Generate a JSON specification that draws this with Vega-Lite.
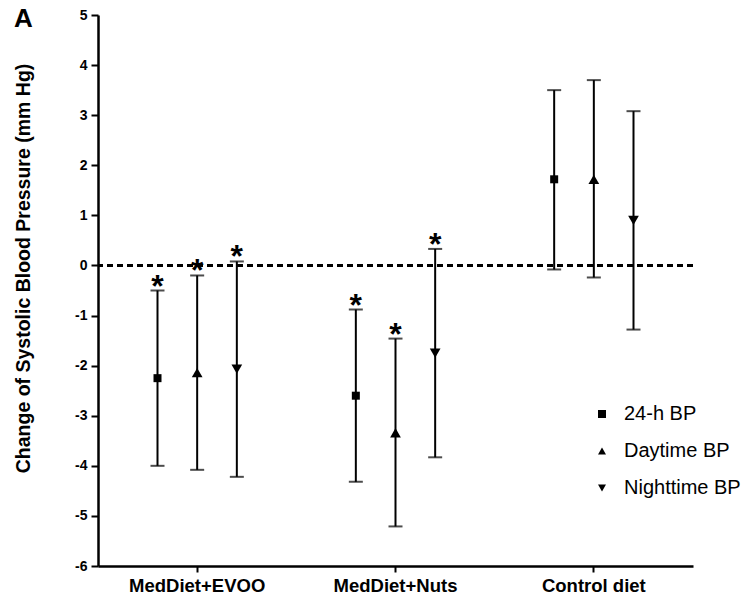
{
  "$schema": "https://vega.github.io/schema/vega-lite/v6.json",
  "width": 595,
  "height": 551,
  "autosize": "none",
  "padding": {"left": 98, "top": 15, "right": 59, "bottom": 37},
  "background": "white",
  "title": {"text": "A", "anchor": "start", "frame": "group", "font": "Liberation Sans", "fontSize": 26, "fontWeight": "bold", "color": "black", "dx": -84, "dy": 28},
  "config": {
    "view": {"stroke": null},
    "font": "Liberation Sans",
    "axis": {"grid": false, "domainColor": "black", "tickColor": "black", "labelColor": "black", "titleColor": "black", "labelFont": "Liberation Sans", "titleFont": "Liberation Sans"},
    "axisX": {"domainWidth": 2.5, "tickWidth": 2, "tickSize": 6, "labelFontSize": 18.5, "labelFontWeight": "bold", "labelAngle": 0, "labelPadding": 4, "title": null},
    "axisY": {"domainWidth": 2.5, "tickWidth": 2, "tickSize": 7, "labelFontSize": 14, "labelFontWeight": "bold", "labelPadding": 4}
  },
  "datasets": {
    "bp": [
      {"diet": "MedDiet+EVOO", "measure": "24-h BP", "mean": -2.25, "lo": -4.0, "hi": -0.5, "sig": "*"},
      {"diet": "MedDiet+EVOO", "measure": "Daytime BP", "mean": -2.14, "lo": -4.08, "hi": -0.2, "sig": "*"},
      {"diet": "MedDiet+EVOO", "measure": "Nighttime BP", "mean": -2.07, "lo": -4.22, "hi": 0.08, "sig": "*"},
      {"diet": "MedDiet+Nuts", "measure": "24-h BP", "mean": -2.6, "lo": -4.32, "hi": -0.88, "sig": "*"},
      {"diet": "MedDiet+Nuts", "measure": "Daytime BP", "mean": -3.34, "lo": -5.21, "hi": -1.46, "sig": "*"},
      {"diet": "MedDiet+Nuts", "measure": "Nighttime BP", "mean": -1.75, "lo": -3.83, "hi": 0.33, "sig": "*"},
      {"diet": "Control diet", "measure": "24-h BP", "mean": 1.72, "lo": -0.08, "hi": 3.5, "sig": ""},
      {"diet": "Control diet", "measure": "Daytime BP", "mean": 1.72, "lo": -0.24, "hi": 3.7, "sig": ""},
      {"diet": "Control diet", "measure": "Nighttime BP", "mean": 0.9, "lo": -1.28, "hi": 3.08, "sig": ""}
    ],
    "zero": [{"z": 0}]
  },
  "data": {"name": "bp"},
  "layer": [
    {
      "data": {"name": "zero"},
      "mark": {"type": "rule", "color": "black", "strokeWidth": 3, "strokeDash": [6, 4]},
      "encoding": {"y": {"field": "z", "type": "quantitative", "scale": {"domain": [-6, 5], "nice": false, "zero": false},
        "axis": {"values": [-6, -5, -4, -3, -2, -1, 0, 1, 2, 3, 4, 5], "labelExpr": "toString(datum.value)", "title": "Change of Systolic Blood Pressure (mm Hg)", "titleFontSize": 19.5, "titleFontWeight": "bold", "titleX": -75, "titleY": 253, "titleAlign": "center", "titleBaseline": "middle", "titleAngle": -90}}}
    },
    {
      "mark": {"type": "rule", "color": "black", "strokeWidth": 2},
      "encoding": {
        "x": {"field": "diet", "type": "nominal", "scale": {"domain": ["MedDiet+EVOO", "MedDiet+Nuts", "Control diet"], "paddingInner": 0, "paddingOuter": 0}},
        "xOffset": {"field": "measure", "type": "nominal", "scale": {"domain": ["24-h BP", "Daytime BP", "Nighttime BP"], "paddingInner": 0, "paddingOuter": 1.5}},
        "y": {"field": "lo", "type": "quantitative"},
        "y2": {"field": "hi"}
      }
    },
    {
      "mark": {"type": "tick", "color": "black", "size": 14, "thickness": 2, "orient": "horizontal"},
      "encoding": {
        "x": {"field": "diet", "type": "nominal", "scale": {"domain": ["MedDiet+EVOO", "MedDiet+Nuts", "Control diet"]}},
        "xOffset": {"field": "measure", "type": "nominal", "scale": {"domain": ["24-h BP", "Daytime BP", "Nighttime BP"]}},
        "y": {"field": "lo", "type": "quantitative"}
      }
    },
    {
      "mark": {"type": "tick", "color": "black", "size": 14, "thickness": 2, "orient": "horizontal"},
      "encoding": {
        "x": {"field": "diet", "type": "nominal", "scale": {"domain": ["MedDiet+EVOO", "MedDiet+Nuts", "Control diet"]}},
        "xOffset": {"field": "measure", "type": "nominal", "scale": {"domain": ["24-h BP", "Daytime BP", "Nighttime BP"]}},
        "y": {"field": "hi", "type": "quantitative"}
      }
    },
    {
      "transform": [{"filter": "datum.measure == '24-h BP'"}],
      "mark": {"type": "point", "filled": true, "color": "black", "opacity": 1, "size": 64},
      "encoding": {
        "x": {"field": "diet", "type": "nominal", "scale": {"domain": ["MedDiet+EVOO", "MedDiet+Nuts", "Control diet"]}},
        "xOffset": {"field": "measure", "type": "nominal", "scale": {"domain": ["24-h BP", "Daytime BP", "Nighttime BP"]}},
        "y": {"field": "mean", "type": "quantitative"},
        "shape": {
          "field": "measure", "type": "nominal",
          "scale": {"domain": ["24-h BP", "Daytime BP", "Nighttime BP"], "range": ["square", "triangle-up", "triangle-down"]},
          "legend": {
            "orient": "none", "legendX": 494, "legendY": 389, "title": null,
            "symbolFillColor": "black", "symbolStrokeColor": "black", "symbolSize": 64, "symbolOpacity": 1,
            "labelFont": "Liberation Sans", "labelFontSize": 20, "labelColor": "black", "labelOffset": 12,
            "rowPadding": 17, "padding": 0
          }
        }
      }
    },
    {
      "transform": [{"filter": "datum.measure != '24-h BP'"}],
      "mark": {"type": "point", "filled": true, "color": "black", "opacity": 1, "size": 115},
      "encoding": {
        "x": {"field": "diet", "type": "nominal", "scale": {"domain": ["MedDiet+EVOO", "MedDiet+Nuts", "Control diet"]}},
        "xOffset": {"field": "measure", "type": "nominal", "scale": {"domain": ["24-h BP", "Daytime BP", "Nighttime BP"]}},
        "y": {"field": "mean", "type": "quantitative"},
        "shape": {"field": "measure", "type": "nominal"}
      }
    },
    {
      "transform": [{"filter": "datum.sig != ''"}],
      "mark": {"type": "text", "font": "Liberation Sans", "fontSize": 32, "fontWeight": "bold", "color": "black", "baseline": "alphabetic", "dy": 6},
      "encoding": {
        "x": {"field": "diet", "type": "nominal", "scale": {"domain": ["MedDiet+EVOO", "MedDiet+Nuts", "Control diet"]}},
        "xOffset": {"field": "measure", "type": "nominal", "scale": {"domain": ["24-h BP", "Daytime BP", "Nighttime BP"]}},
        "y": {"field": "hi", "type": "quantitative"},
        "text": {"field": "sig"}
      }
    }
  ]
}
